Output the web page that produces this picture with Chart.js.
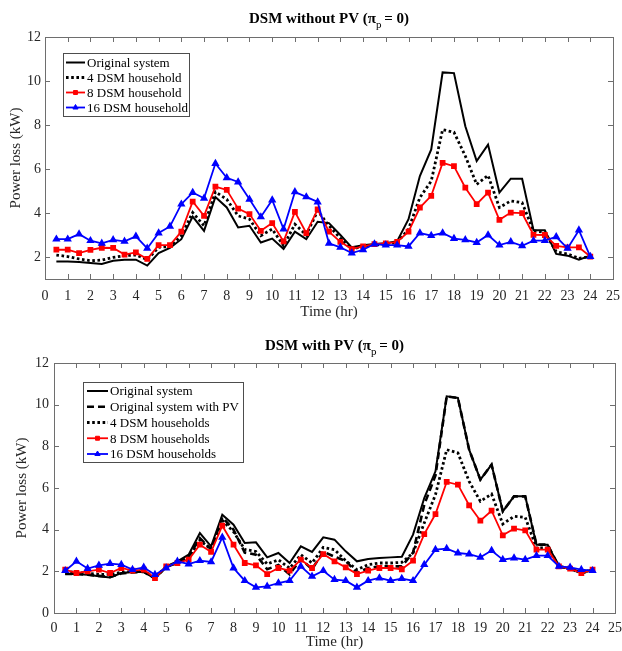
<!DOCTYPE html>
<html><head><meta charset="utf-8">
<script src="https://cdn.jsdelivr.net/npm/chart.js@4.4.0/dist/chart.umd.min.js"></script>
<style>
html,body{margin:0;padding:0;background:#fff;}
#w{position:relative;width:622px;height:651px;overflow:hidden;}
canvas{position:absolute;left:0;}
</style></head><body>
<div id="w">
<canvas id="c1" width="622" height="325" style="top:0"></canvas>
<canvas id="c2" width="622" height="326" style="top:325px"></canvas>
</div>
<script>
// ---------- data ----------
const hours = [0.5,1,1.5,2,2.5,3,3.5,4,4.5,5,5.5,6,6.5,7,7.5,8,8.5,9,9.5,10,10.5,11,11.5,12,
               12.5,13,13.5,14,14.5,15,15.5,16,16.5,17,17.5,18,18.5,19,19.5,20,20.5,21,21.5,22,22.5,23,23.5,24];
const xTickLabels = [0,1,2,3,4,5,6,7,8,9,10,11,12,13,14,15,16,17,18,19,20,21,22,23,24,25];
const yTicksTop = [2,4,6,8,10,12];
const yTicksBottom = [0,2,4,6,8,10,12];

// DSM without PV
const topOriginal = [1.80,1.80,1.77,1.73,1.68,1.83,1.88,1.88,1.61,2.18,2.41,2.81,3.84,3.19,4.73,4.25,3.34,3.42,2.66,2.84,2.36,3.15,2.81,3.60,
                     3.54,3.00,2.44,2.54,2.59,2.63,2.72,3.72,5.68,6.89,10.39,10.36,7.94,6.36,7.11,4.93,5.56,5.56,3.22,3.22,2.14,2.06,1.88,2.06];
const topDsm4 = [2.09,2.02,1.91,1.83,1.86,1.98,2.06,2.09,1.88,2.44,2.48,2.97,4.02,3.42,4.96,4.62,3.87,3.72,2.97,3.27,2.51,3.49,3.00,4.10,
                 3.42,2.85,2.36,2.48,2.54,2.59,2.66,3.27,4.70,5.45,7.79,7.67,6.59,5.30,5.71,4.25,4.55,4.47,3.19,3.12,2.24,2.14,1.94,2.02];
const topDsm8 = [2.33,2.33,2.18,2.32,2.42,2.41,2.11,2.21,1.91,2.54,2.54,3.15,4.52,3.87,5.20,5.05,4.20,3.95,3.19,3.54,2.71,4.05,3.09,4.17,
                 3.15,2.69,2.36,2.48,2.59,2.62,2.69,3.15,4.25,4.78,6.28,6.13,5.15,4.40,4.93,3.69,4.02,3.99,3.01,3.00,2.51,2.44,2.44,2.02];
const topDsm16 = [2.81,2.81,3.04,2.74,2.62,2.78,2.71,2.94,2.39,3.09,3.39,4.40,4.93,4.67,6.25,5.60,5.41,4.62,3.82,4.59,3.27,4.96,4.73,4.50,
                  2.62,2.44,2.18,2.33,2.59,2.54,2.54,2.48,3.09,2.97,3.09,2.84,2.78,2.66,3.00,2.54,2.69,2.51,2.74,2.74,2.92,2.39,3.22,2.02];

// DSM with PV
const botOriginal = [1.87,1.87,1.84,1.76,1.71,1.92,1.97,1.97,1.65,2.24,2.48,2.80,3.84,3.20,4.72,4.24,3.36,3.39,2.67,2.88,2.40,3.20,2.93,3.63,
                     3.52,2.96,2.48,2.59,2.64,2.67,2.70,3.76,5.52,6.80,10.40,10.32,7.84,6.40,7.12,4.88,5.60,5.60,3.28,3.28,2.24,2.13,1.97,2.08];
const botOriginalPV = [1.87,1.87,1.84,1.78,1.73,1.90,1.95,1.97,1.66,2.22,2.40,2.70,3.60,3.05,4.60,4.00,2.90,2.80,2.10,2.30,1.85,2.60,2.10,2.95,
                       2.70,2.50,1.92,2.16,2.24,2.24,2.24,2.90,5.20,6.60,10.40,10.32,7.84,6.40,7.12,4.88,5.60,5.60,3.28,3.28,2.24,2.13,1.90,2.08];
const botDsm4 = [2.00,1.95,1.90,1.85,1.85,1.95,2.00,2.00,1.72,2.22,2.42,2.65,3.50,3.05,4.45,3.90,3.05,2.95,2.35,2.55,2.15,2.80,2.40,3.15,
                 3.04,2.51,2.08,2.32,2.40,2.40,2.43,2.88,4.32,5.68,7.84,7.68,6.32,5.36,5.71,4.27,4.64,4.59,3.12,3.12,2.24,2.13,1.92,2.08];
const botDsm8 = [2.08,1.92,2.00,2.08,1.92,2.16,2.03,2.08,1.68,2.24,2.40,2.56,3.28,2.93,4.19,3.28,2.40,2.29,1.87,2.16,2.03,2.56,2.16,2.83,
                 2.48,2.19,1.87,2.03,2.16,2.16,2.10,2.51,3.79,4.75,6.29,6.16,5.17,4.43,4.91,3.73,4.05,3.97,3.04,3.04,2.24,2.13,1.92,2.08];
const botDsm16 = [2.03,2.48,2.13,2.29,2.37,2.32,2.08,2.19,1.84,2.16,2.48,2.35,2.51,2.45,3.63,2.16,1.55,1.23,1.28,1.44,1.55,2.24,1.76,2.03,
                  1.60,1.55,1.23,1.55,1.68,1.55,1.65,1.55,2.32,3.04,3.09,2.88,2.83,2.67,3.00,2.56,2.64,2.56,2.75,2.75,2.24,2.19,2.08,2.03];

// ---------- helpers ----------
const SERIF = '"Liberation Serif", "DejaVu Serif", serif';
const AXIS_COLOR = '#6e6e6e';
const TEXT_COLOR = '#262626';

function pts(arr){ return hours.map((h,i)=>({x:h,y:arr[i]})); }

function ds(label, arr, style){
  return Object.assign({
    label, data: pts(arr), tension:0, fill:false, pointRadius:0, pointHoverRadius:0,
    borderWidth:1.8, borderColor:'#000', backgroundColor:'#000', borderCapStyle:'butt', borderJoinStyle:'miter'
  }, style);
}
const S_ORIG = {borderColor:'#000', borderWidth:2};
const S_PV = {borderColor:'#000', borderWidth:2.6, borderDash:[7,4]};
const S_D4 = {borderColor:'#000', borderWidth:2.8, borderDash:[2.6,2.6]};
const S_D8 = {borderColor:'#ff0000', backgroundColor:'#ff0000', borderWidth:1.8, pointStyle:'rect', pointRadius:2.8};
const S_D16 = {borderColor:'#0000ff', backgroundColor:'#0000ff', borderWidth:1.8, pointStyle:'triangle', pointRadius:3};

const framePlugin = {
  id:'frame',
  beforeDatasetsDraw(chart){
    const {ctx, chartArea:a, scales:{x,y}} = chart;
    ctx.save();
    ctx.strokeStyle = AXIS_COLOR; ctx.lineWidth = 1;
    ctx.strokeRect(Math.round(a.left)+0.5, Math.round(a.top)+0.5, Math.round(a.right-a.left), Math.round(a.bottom-a.top));
    const tl = 5;
    ctx.beginPath();
    x.ticks.forEach(t=>{
      const px = Math.round(x.getPixelForValue(t.value))+0.5;
      ctx.moveTo(px, a.bottom); ctx.lineTo(px, a.bottom-tl);
      ctx.moveTo(px, a.top); ctx.lineTo(px, a.top+tl);
    });
    y.ticks.forEach(t=>{
      const py = Math.round(y.getPixelForValue(t.value))+0.5;
      ctx.moveTo(a.left, py); ctx.lineTo(a.left+tl, py);
      ctx.moveTo(a.right, py); ctx.lineTo(a.right-tl, py);
    });
    ctx.stroke();
    ctx.restore();
  }
};

const titlePlugin = {
  id:'subtitleTitle',
  afterDraw(chart, args, o){
    const {ctx, chartArea:a} = chart;
    const big = 'bold 15px ' + SERIF, small = '11px ' + SERIF;
    ctx.save();
    ctx.fillStyle = '#000'; ctx.textBaseline = 'alphabetic';
    ctx.font = big; const w1 = ctx.measureText(o.pre).width; const w3 = ctx.measureText(o.post).width;
    ctx.font = small; const w2 = ctx.measureText('p').width;
    const total = w1 + w2 + w3 - 1;
    let x0 = (a.left + a.right)/2 - total/2;
    ctx.font = big; ctx.textAlign='left';
    ctx.fillText(o.pre, x0, o.y);
    ctx.font = small; ctx.fillText('p', x0 + w1, o.y + 5);
    ctx.font = big; ctx.fillText(o.post, x0 + w1 + w2 - 1, o.y);
    ctx.restore();
  }
};

const legendPlugin = {
  id:'boxLegend',
  afterDatasetsDraw(chart, args, o){
    const {ctx} = chart;
    ctx.save();
    ctx.fillStyle = '#fff';
    ctx.fillRect(o.x, o.y, o.w, o.h);
    ctx.strokeStyle = '#4d4d4d'; ctx.lineWidth = 1;
    ctx.strokeRect(o.x+0.5, o.y+0.5, o.w, o.h);
    chart.data.datasets.forEach((d,i)=>{
      const yy = o.row0 + i*o.rowH;
      ctx.save();
      ctx.strokeStyle = d.borderColor; ctx.lineWidth = d.borderWidth;
      ctx.setLineDash(d.borderDash || []);
      ctx.beginPath(); ctx.moveTo(o.lx0, yy); ctx.lineTo(o.lx1, yy); ctx.stroke();
      ctx.restore();
      if (d.pointRadius > 0) {
        ctx.save();
        ctx.fillStyle = d.backgroundColor; ctx.strokeStyle = d.borderColor; ctx.lineWidth = 1;
        Chart.helpers.drawPoint(ctx, {pointStyle:d.pointStyle, radius:d.pointRadius, borderWidth:1, rotation:0},
          (o.lx0+o.lx1)/2, yy);
        ctx.restore();
      }
      ctx.fillStyle = '#000'; ctx.font = '13px ' + SERIF;
      ctx.textAlign = 'left'; ctx.textBaseline = 'middle';
      ctx.fillText(d.label, o.tx, yy + 1);
    });
    ctx.restore();
  }
};

function makeChart(id, p){
  const W = 622, H = p.H;
  const n = p.datasets.length;
  p.datasets.forEach((d,i)=>{ d.order = n-1-i; }); // later series drawn on top
  return new Chart(document.getElementById(id), {
    type:'line',
    data:{datasets:p.datasets},
    options:{
      responsive:false, animation:false, devicePixelRatio:1,
      layout:{padding:{left:0, top:p.area.top, right: W - p.area.right, bottom:0}},
      plugins:{
        legend:{display:false}, tooltip:{enabled:false},
        subtitleTitle:{pre:p.titlePre, post:' = 0)', y:p.titleY},
        boxLegend:p.legend
      },
      scales:{
        x:{
          type:'linear', min:0, max:25, position:'bottom',
          afterBuildTicks(s){ s.ticks = xTickLabels.map(v=>({value:v})); },
          afterFit(s){ s.height = H - p.area.bottom; s.paddingLeft = 0; s.paddingRight = 0; },
          grid:{display:false, drawTicks:false}, border:{display:false},
          ticks:{padding:p.xTickPad, color:TEXT_COLOR, font:{family:SERIF, size:14}, maxRotation:0, autoSkip:false},
          title:{display:true, text:'Time (hr)', color:TEXT_COLOR, font:{family:SERIF, size:15}, padding:{top:0,bottom:p.xTitlePad}}
        },
        y:{
          type:'linear', min:p.yMin, max:12, position:'left',
          afterBuildTicks(s){ s.ticks = p.yTicks.map(v=>({value:v})); },
          afterFit(s){ s.width = p.area.left; s.paddingTop = 0; s.paddingBottom = 0; },
          grid:{display:false, drawTicks:false}, border:{display:false},
          ticks:{padding:p.yTickPad, color:TEXT_COLOR, font:{family:SERIF, size:14}},
          title:{display:true, text:'Power loss (kW)', color:TEXT_COLOR, font:{family:SERIF, size:15}, padding:{top:p.yTitlePad,bottom:0}}
        }
      }
    },
    plugins:[framePlugin, titlePlugin, legendPlugin]
  });
}

const top1 = [
  ds('Original system', topOriginal, S_ORIG),
  ds('4 DSM household', topDsm4, S_D4),
  ds('8 DSM household', topDsm8, S_D8),
  ds('16 DSM household', topDsm16, S_D16)
];
const bot1 = [
  ds('Original system', botOriginal, S_ORIG),
  ds('Original system with PV', botOriginalPV, S_PV),
  ds('4 DSM households', botDsm4, S_D4),
  ds('8 DSM households', botDsm8, S_D8),
  ds('16 DSM households', botDsm16, S_D16)
];

makeChart('c1', {
  H:325, area:{left:45, right:613, top:37, bottom:279}, yMin:1, yTicks:yTicksTop,
  datasets: top1, titlePre:'DSM without PV (\u03C0', titleY:23,
  xTickPad:9, xTitlePad:4, yTickPad:4, yTitlePad:7,
  legend:{x:63, y:53, w:126, h:63, row0:62.5, rowH:15, lx0:66, lx1:85, tx:87}
});
makeChart('c2', {
  H:326, area:{left:54, right:615, top:38, bottom:288}, yMin:0, yTicks:yTicksBottom,
  datasets: bot1, titlePre:'DSM with PV (\u03C0', titleY:25,
  xTickPad:7, xTitlePad:0, yTickPad:5, yTitlePad:13,
  legend:{x:83, y:57, w:160, h:80, row0:66, rowH:15.75, lx0:87, lx1:108, tx:110}
});
</script>
</body></html>
